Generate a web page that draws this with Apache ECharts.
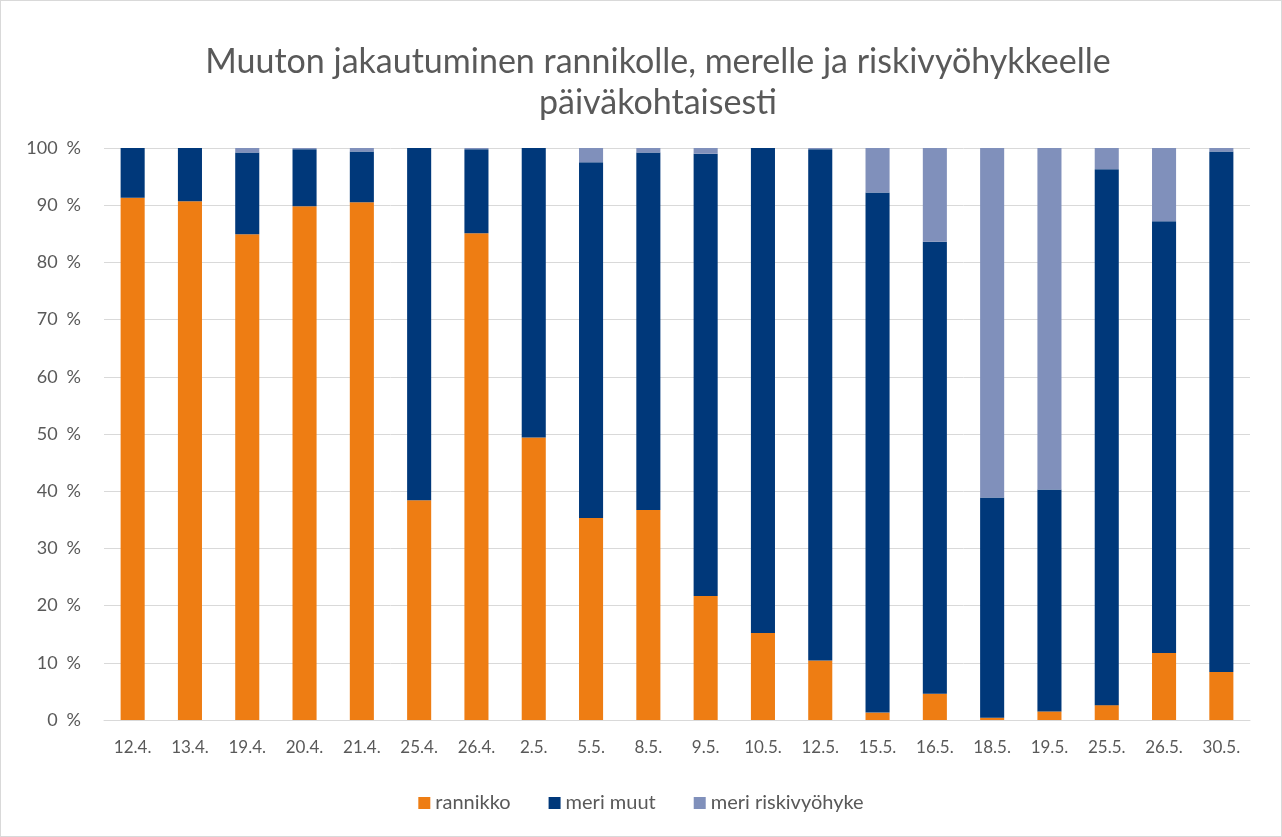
<!DOCTYPE html>
<html>
<head>
<meta charset="utf-8">
<script src="https://cdn.jsdelivr.net/npm/echarts@6/dist/echarts.min.js"></script>
<style>
html,body{margin:0;padding:0;background:#fff;}
#c{position:absolute;left:0;top:0;width:1282px;height:837px;}
#b{position:absolute;left:0;top:0;width:1280px;height:835px;border:1px solid #d9d9d9;pointer-events:none;}
</style>
</head>
<body>
<div id="c"></div>
<div id="b"></div>
<script>
const categories = ['12.4.','13.4.','19.4.','20.4.','21.4.','25.4.','26.4.','2.5.','5.5.','8.5.','9.5.','10.5.','12.5.','15.5.','16.5.','18.5.','19.5.','25.5.','26.5.','30.5.'];
const rannikko = [91.3,90.7,84.9,89.8,90.5,38.4,85.1,49.4,35.3,36.7,21.7,15.2,10.4,1.3,4.6,0.4,1.5,2.6,11.7,8.4];
const meriMuut = [8.7,9.3,14.3,10.0,8.9,61.6,14.7,50.6,62.2,62.5,77.3,84.8,89.4,90.9,79.0,38.5,38.8,93.7,75.5,91.0];
const meriRiski = [0,0,0.8,0.2,0.6,0,0.2,0,2.5,0.8,1.0,0,0.2,7.8,16.4,61.1,59.7,3.7,12.8,0.6];
const yTicks = [0,10,20,30,40,50,60,70,80,90,100];

const font = 'Lato, "Open Sans", sans-serif';
const chart = echarts.init(document.getElementById('c'), null, {renderer:'canvas'});
const barW = '42%';
chart.setOption({
  animation:false,
  title:{
    text:'Muuton jakautuminen rannikolle, merelle ja riskivyöhykkeelle\npäiväkohtaisesti',
    left:653, textAlign:'center', top:37,
    textStyle:{fontFamily:font, fontSize:34, fontWeight:'normal', color:'#595959', lineHeight:41}
  },
  legend:{
    bottom:19, left:'center',
    itemWidth:12, itemHeight:12, itemGap:38, icon:'rect',
    textStyle:{fontFamily:font, fontSize:20, color:'#595959'},
    data:['rannikko','meri muut','meri riskivyöhyke']
  },
  grid:{left:104, right:32, top:148, bottom:117, containLabel:false},
  xAxis:{
    type:'category', data:categories,
    axisLine:{lineStyle:{color:'#d9d9d9', width:1}},
    axisTick:{show:false},
    axisLabel:{fontFamily:font, fontSize:17, color:'#595959', margin:19}
  },
  yAxis:{
    type:'value', min:0, max:100, interval:10,
    axisLabel:{fontFamily:font, fontSize:18, color:'#595959', margin:23,
      formatter:v => yTicks.includes(v) ? v + '\u2002%' : ''},
    splitLine:{lineStyle:{color:'#d9d9d9', width:1}},
    axisLine:{show:false}, axisTick:{show:false}
  },
  series:[
    {name:'rannikko', type:'bar', stack:'a', data:rannikko, barWidth:barW, itemStyle:{color:'#EE7D13'}},
    {name:'meri muut', type:'bar', stack:'a', data:meriMuut, barWidth:barW, itemStyle:{color:'#00387A'}},
    {name:'meri riskivyöhyke', type:'bar', stack:'a', data:meriRiski, barWidth:barW, itemStyle:{color:'#8090BB'}}
  ]
});
</script>
</body>
</html>
